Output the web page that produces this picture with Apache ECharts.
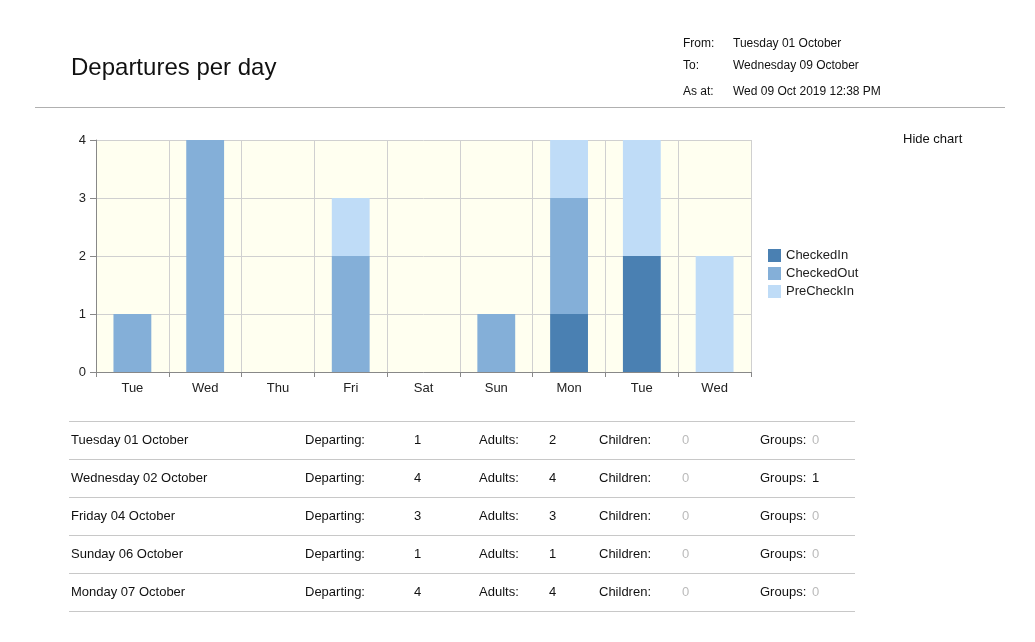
<!DOCTYPE html>
<html><head><meta charset="utf-8">
<script src="https://cdn.jsdelivr.net/npm/echarts@6/dist/echarts.min.js"></script>
<style>
body{margin:0;background:#fff;font-family:"Liberation Sans",Arial,sans-serif;color:#111;}
#wrap{position:relative;width:1035px;height:642px;overflow:hidden;}
#chart{position:absolute;left:0;top:0;width:1035px;height:642px;}
.t{position:absolute;white-space:nowrap;font-size:13px;}
.hl{position:absolute;height:1px;background:#c8c8c8;}
.g{color:#bbb;}
</style></head><body>
<div id="wrap"><div id="chart"></div></div>
<script>
const categories=["Tue","Wed","Thu","Fri","Sat","Sun","Mon","Tue","Wed"];
const checkedIn=[0,0,0,0,0,0,1,2,0];
const checkedOut=[1,4,0,2,0,1,2,0,0];
const preCheckIn=[0,0,0,1,0,0,1,2,2];
const yTicks=[0,1,2,3,4];
const rows=[
 ["Tuesday  01 October",1,2,0,"0"],
 ["Wednesday  02 October",4,4,0,"1"],
 ["Friday  04 October",3,3,0,"0"],
 ["Sunday  06 October",1,1,0,"0"],
 ["Monday  07 October",4,4,0,"0"]
];
const wrap=document.getElementById('wrap');
function add(html,x,y,cls,style){const d=document.createElement('div');d.className='t '+(cls||'');d.style.left=x+'px';d.style.top=y+'px';if(style)d.style.cssText+=style;d.innerHTML=html;wrap.appendChild(d);}
function line(x,y,w,c){const d=document.createElement('div');d.className='hl';d.style.left=x+'px';d.style.top=y+'px';d.style.width=w+'px';if(c)d.style.background=c;wrap.appendChild(d);}
add("Departures per day",71,53,"","font-size:24px;");
add("From:",683,36,"","font-size:12px");add("Tuesday 01 October",733,36,"","font-size:12px");
add("To:",683,58,"","font-size:12px");add("Wednesday 09 October",733,58,"","font-size:12px");
add("As at:",683,84,"","font-size:12px");add("Wed 09 Oct 2019 12:38 PM",733,84,"","font-size:12px");
line(35,107,970,"#b0b0b0");
add("Hide chart",903,131,"","font-size:13px");
rows.forEach((r,i)=>{const y=432+i*38;line(69,421+i*38,786);
 add(r[0],71,y);add("Departing:",305,y);add(r[1],414,y);add("Adults:",479,y);add(r[2],549,y);
 add("Children:",599,y);add(r[3],682,y,"g");add("Groups:",760,y);add(r[4],812,y,r[4]==="0"?"g":"");});
line(69,611,786);
const chart=echarts.init(document.getElementById('chart'));
const mk=(name,data,color)=>({name,type:'bar',stack:'a',data,barWidth:'52%',itemStyle:{color},emphasis:{disabled:true}});
chart.setOption({
 animation:false,
 grid:{left:96,top:140,width:655,height:232,show:true,backgroundColor:'#fffff0',borderWidth:0},
 legend:{orient:'vertical',left:763,top:244,itemWidth:13,itemHeight:13,itemGap:5,icon:'rect',
   textStyle:{fontSize:13,color:'#222',fontFamily:'Liberation Sans'},data:['CheckedIn','CheckedOut','PreCheckIn']},
 xAxis:{type:'category',data:categories,boundaryGap:true,
   axisLine:{lineStyle:{color:'#888'}},axisTick:{show:true,length:5,lineStyle:{color:'#888'}},
   splitLine:{show:true,lineStyle:{color:'#d0d0d0'}},
   axisLabel:{color:'#222',fontSize:13,margin:10,fontFamily:'Liberation Sans'}},
 yAxis:{type:'value',min:0,max:4,interval:1,
   axisLine:{show:true,lineStyle:{color:'#888'}},axisTick:{show:true,length:6,lineStyle:{color:'#888'}},
   splitLine:{lineStyle:{color:'#d0d0d0'}},
   axisLabel:{color:'#222',fontSize:13,margin:10,fontFamily:'Liberation Sans',formatter:v=>yTicks.includes(v)?String(v):''}},
 series:[mk('CheckedIn',checkedIn,'#4a80b2'),mk('CheckedOut',checkedOut,'#84afd8'),mk('PreCheckIn',preCheckIn,'#bfdcf7')]
});
</script></body></html>
